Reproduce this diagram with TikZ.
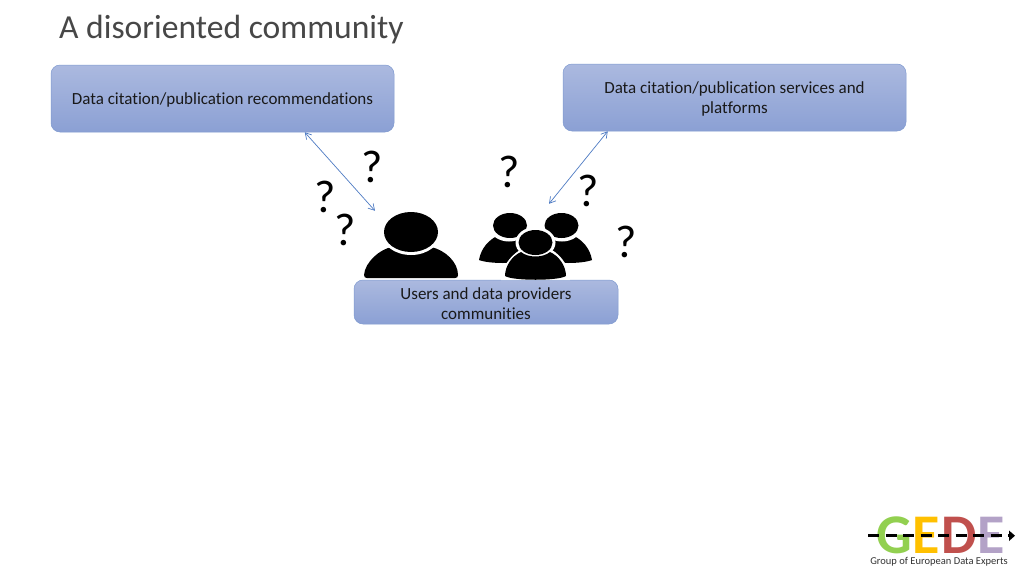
\documentclass[tikz,border=0pt]{standalone}
\usepackage{fontspec}
\setmainfont[Ligatures=NoCommon]{Carlito}
\usetikzlibrary{arrows.meta}
\definecolor{boxtop}{HTML}{ABB9DF}
\definecolor{boxbot}{HTML}{8BA0D4}
\definecolor{boxline}{HTML}{7F9AD0}
\definecolor{arrowblue}{HTML}{4F7CC4}
\definecolor{gedeg}{HTML}{92D050}
\definecolor{gedey}{HTML}{FFC000}
\definecolor{geder}{HTML}{C0504D}
\definecolor{gedep}{HTML}{B3A2C7}
\newcommand{\lowerfirst}{\rule{0pt}{15pt}}
\tikzset{
  x=1pt,y=-1pt,
  infobox/.style={draw=boxline,line width=0.5pt,rounded corners=9pt,top color=boxtop,bottom color=boxbot,
    align=center,text=black!90,font=\fontsize{17}{20.5}\selectfont,inner sep=0pt},
  link/.style={draw=arrowblue,line width=0.7pt,{Straight Barb[length=6pt,width=7pt]}-{Straight Barb[length=6pt,width=7pt]}},
  qmark/.style={font=\fontsize{46}{46}\selectfont,inner sep=0pt,text=black},
  gedeletter/.style={font=\fontsize{56}{56}\selectfont\bfseries,inner sep=0pt,anchor=base},
  icon/.style={fill=black,draw=none},
  gap/.style={fill=white,draw=none},
  anchorbox/.style={inner sep=0pt,minimum width=#1,minimum height=40pt},
}
\begin{document}
\begin{tikzpicture}
\useasboundingbox (0,0) rectangle (1024,576);
\fill[white] (0,0) rectangle (1024,576);

\node[anchor=base west,inner sep=0pt,font=\fontsize{33.6}{36}\selectfont,text=black!72] (title) at (59,38.5) {A disoriented community};

\node[infobox,minimum width=343pt,minimum height=67pt] (b1) at (222.5,98.5) {\lowerfirst Data citation/publication recommendations};
\node[infobox,minimum width=343pt,minimum height=67pt] (b2) at (734.5,97.5) {\lowerfirst Data citation/publication services and\\platforms};
\node[infobox,minimum width=264pt,minimum height=44pt] (b3) at (486,302) {\lowerfirst Users and data providers\\communities};

% invisible holders for the icons
\node[anchorbox=96pt] (person) at (411,231) {};
\node[anchorbox=114pt] (group) at (535,231) {};

% single person
\fill[icon] (364,275) .. controls (365,262) and (380,249) .. (392,247) .. controls (402,256) and (420,256) .. (431,247) .. controls (445,250) and (458,262) .. (458,275) .. controls (458,277) and (457,278) .. (455,278) -- (367,278) .. controls (365,278) and (364,277) .. (364,275) -- cycle;
\path[gap] (411,232) ellipse (30 and 23);
\path[icon] (411,232) ellipse (27 and 20);

% group: back bodies
\fill[icon] (479,260) .. controls (481,248) and (489,240) .. (497,236) -- (525,240) -- (522,262) -- (503,263) .. controls (494,263) and (484,262) .. (479,260) -- cycle;
\fill[icon] (592,260) .. controls (590,248) and (582,240) .. (574,236) -- (546,240) -- (549,262) -- (568,263) .. controls (577,263) and (587,262) .. (592,260) -- cycle;
\path[gap] (509,226) ellipse (20 and 15.5);
\path[gap] (562,226) ellipse (20 and 15.5);
\path[icon] (510,225.5) ellipse (17 and 12.5);
\path[icon] (561.5,225.5) ellipse (17 and 12.5);
% front body with white halo
\path[gap] (501,280) .. controls (501,268) and (510,256) .. (520,250) -- (552,250) .. controls (562,256) and (570,268) .. (570,280) -- cycle;
\path[gap] (535.5,242.5) ellipse (20 and 15.5);
\fill[icon] (505,276) .. controls (505,266) and (512,256) .. (521,252) .. controls (528,258) and (543,258) .. (550,252) .. controls (559,256) and (566,266) .. (566,276) .. controls (558,281) and (513,281) .. (505,276) -- cycle;
\path[icon] (535.5,242.5) ellipse (17 and 12.5);

\draw[link] ([xshift=254pt]b1.south west) -- ([xshift=-36pt]person.north);
\draw[link] ([xshift=45pt]b2.south west) -- ([xshift=14pt,yshift=7pt]group.north);

\node[qmark] (q1) at (372,167) {?};
\node[qmark] (q2) at (325,197) {?};
\node[qmark] (q3) at (345,230) {?};
\node[qmark] (q4) at (509,172) {?};
\node[qmark] (q5) at (588,191) {?};
\node[qmark] (q6) at (626,242) {?};

% logo
\node[gedeletter,text=gedeg] (lg) at (894,553.5) {G};
\node[gedeletter,text=gedey] (le) at (926.5,553.5) {E};
\node[gedeletter,text=geder] (ld) at (959,553.5) {D};
\node[gedeletter,text=gedep] (lf) at (991,553.5) {E};
\coordinate (logostart) at (868,535.7);
\coordinate (logoend) at (1015,535.7);
\draw[line width=3.2pt,black,dash pattern=on 11pt off 6.5pt] (logostart) -- ([xshift=-6pt]logoend);
\fill[black] (logoend) -- (1009,530.5) -- (1009,541) -- cycle;
\node[inner sep=0pt,font=\fontsize{10.5}{11}\selectfont,text=black!80] (logotext) at (939,561.5) {Group of European Data Experts};
\end{tikzpicture}
\end{document}
